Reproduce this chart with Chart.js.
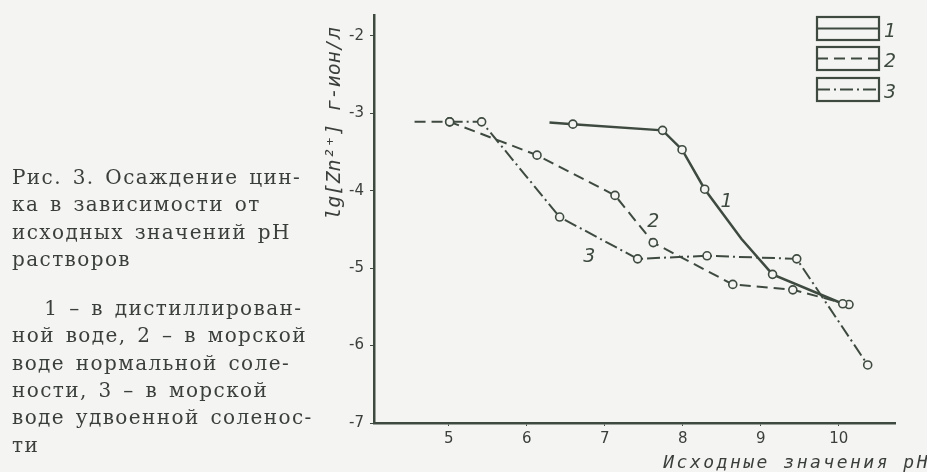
<!DOCTYPE html>
<html lang="ru">
<head>
  <meta charset="UTF-8" />
  <title>Осаждение цинка</title>
  <script src="https://cdn.jsdelivr.net/npm/chart.js@4.4.1/dist/chart.umd.min.js"></script>
  <style>
    html, body { margin: 0; padding: 0; background: #f4f4f2; }
    #wrap { position: relative; width: 927px; height: 472px; overflow: hidden; }
    #chart { position: absolute; left: 0; top: 0; }
    #caption {
      position: absolute; left: 12px; top: 164px; width: 300px;
      font-family: "DejaVu Serif", serif; font-size: 20px; line-height: 27.3px;
      color: #3b3f3b; letter-spacing: 1.4px; word-spacing: 3px;
    }
    #caption p { margin: 0; white-space: nowrap; }
    #caption .gap { height: 22px; }
  </style>
</head>
<body>
<div id="wrap">
  <canvas id="chart" width="927" height="472"></canvas>
  <div id="caption">
    <p>Рис. 3. Осаждение цин-</p>
    <p>ка в зависимости от</p>
    <p>исходных значений pH</p>
    <p>растворов</p>
    <div class="gap"></div>
    <p>&nbsp;&nbsp;&nbsp;1 – в дистиллирован-</p>
    <p>ной воде, 2 – в морской</p>
    <p>воде нормальной соле-</p>
    <p>ности, 3 – в морской</p>
    <p>воде удвоенной соленос-</p>
    <p>ти</p>
  </div>
</div>

<script>
  // values (x = initial pH, y = lg[Zn2+])
  const ph1 = [6.29, 6.59, 7.74, 7.99, 8.28, 8.75, 9.15, 10.05]
  const lg1 = [-3.12, -3.14, -3.22, -3.47, -3.98, -4.62, -5.08, -5.46]
  const mark1 = [0, 1, 1, 1, 1, 0, 1, 1]

  const ph2 = [4.56, 5.01, 6.13, 7.13, 7.62, 8.64, 9.41, 10.13]
  const lg2 = [-3.11, -3.11, -3.54, -4.06, -4.67, -5.21, -5.28, -5.47]
  const mark2 = [0, 1, 1, 1, 1, 1, 1, 1]

  const ph3 = [5.01, 5.42, 6.42, 7.42, 8.31, 9.46, 10.37]
  const lg3 = [-3.11, -3.11, -4.34, -4.88, -4.84, -4.88, -6.25]
  const mark3 = [1, 1, 1, 1, 1, 1, 1]

  const xTicks = [5, 6, 7, 8, 9, 10]
  const yTicks = [-2, -3, -4, -5, -6, -7]
  const names = ['1', '2', '3']
  // curve number labels, in data units
  const labelPh = [8.56, 7.62, 6.8]
  const labelLg = [-4.15, -4.4, -4.86]

  const ink = '#3e4a40'
  const paper = '#f4f4f2'
  const dashes = [[], [11, 6], [13, 4, 2, 4]]

  function series(xs, ys, marks, i) {
    return {
      label: names[i],
      data: xs.map((x, k) => ({ x: x, y: ys[k] })),
      borderColor: ink,
      borderWidth: i === 0 ? 2.5 : 2,
      borderDash: dashes[i],
      backgroundColor: paper,
      pointBackgroundColor: paper,
      pointBorderColor: ink,
      pointBorderWidth: 1.6,
      pointRadius: marks.map(m => m ? 4 : 0),
      showLine: true,
      tension: 0,
      fill: false
    }
  }

  const extras = {
    id: 'extras',
    afterDatasetsDraw(chart) {
      const ctx = chart.ctx
      const xs = chart.scales.x, ys = chart.scales.y
      ctx.save()
      ctx.fillStyle = ink
      ctx.font = 'italic 19px "DejaVu Sans"'
      ctx.textAlign = 'center'
      ctx.textBaseline = 'middle'
      names.forEach((n, i) => {
        ctx.fillText(n, xs.getPixelForValue(labelPh[i]), ys.getPixelForValue(labelLg[i]))
      })
      // boxed legend in the top right corner
      ctx.strokeStyle = ink
      const bx = 817, bw = 62, bh = 23
      const tops = [17, 47, 78]
      names.forEach((n, i) => {
        const y = tops[i]
        ctx.setLineDash([])
        ctx.lineWidth = 2.2
        ctx.strokeRect(bx, y, bw, bh)
        ctx.beginPath()
        ctx.setLineDash(dashes[i])
        ctx.lineWidth = 2
        ctx.moveTo(bx, y + bh / 2)
        ctx.lineTo(bx + bw, y + bh / 2)
        ctx.stroke()
        ctx.textAlign = 'left'
        ctx.fillText(n, bx + bw + 5, y + bh / 2 + 4)
      })
      // axis caption under the pH ticks
      ctx.fillStyle = '#3b3f3b'
      ctx.font = 'italic 18px "DejaVu Sans Mono"'
      ctx.letterSpacing = '2.5px'
      ctx.textAlign = 'right'
      ctx.textBaseline = 'alphabetic'
      ctx.fillText('Исходные значения pH', 930, 468)
      ctx.restore()
    }
  }

  new Chart(document.getElementById('chart'), {
    type: 'scatter',
    data: {
      datasets: [
        series(ph1, lg1, mark1, 0),
        series(ph2, lg2, mark2, 1),
        series(ph3, lg3, mark3, 2)
      ]
    },
    plugins: [extras],
    options: {
      responsive: false,
      animation: false,
      layout: { padding: { left: 300, right: 32, top: 12, bottom: 0 } },
      plugins: { legend: { display: false }, tooltip: { enabled: false } },
      scales: {
        x: {
          type: 'linear', min: 4.04, max: 10.72,
          afterBuildTicks: s => { s.ticks = xTicks.map(v => ({ value: v })) },
          afterFit: s => { s.height = 49 },
          border: { color: ink, width: 2.5 },
          grid: { display: true, drawOnChartArea: false, tickLength: 3, color: ink },
          ticks: { color: '#3b3f3b', font: { family: 'DejaVu Sans', size: 15 }, padding: 4 }
        },
        y: {
          type: 'linear', min: -7, max: -1.73,
          afterBuildTicks: s => { s.ticks = yTicks.map(v => ({ value: v })) },
          afterFit: s => { s.width = 74 },
          border: { color: ink, width: 2.5 },
          grid: { display: true, drawOnChartArea: false, tickLength: 4, color: ink },
          ticks: { color: '#3b3f3b', font: { family: 'DejaVu Sans', size: 15 }, padding: 6 },
          title: {
            display: true, text: 'lg[Zn²⁺] г-ион/л\u00a0', align: 'end',
            color: '#3b3f3b', font: { family: 'DejaVu Sans Mono', size: 20, style: 'italic' },
            padding: { top: 23, bottom: 0 }
          }
        }
      }
    }
  })
</script>
</body>
</html>
